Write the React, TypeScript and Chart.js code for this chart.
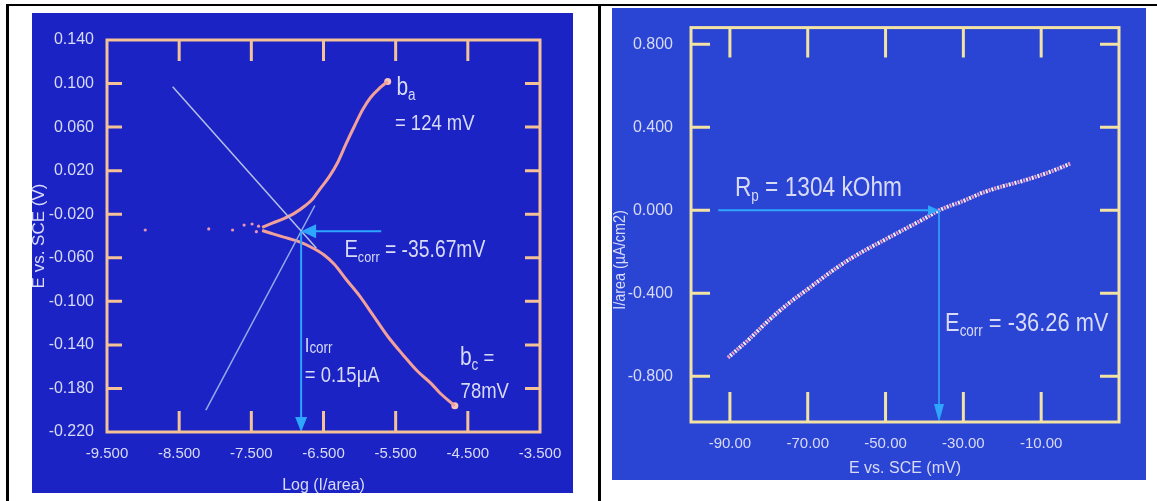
import React, { useEffect, useRef } from "react";
import { Chart, registerables } from "chart.js";

Chart.register(...registerables);

const FONT = "'Liberation Sans', Arial, sans-serif";
const SQUEEZE = 0.84; // condensed look for annotation text

// ---------- Left panel: Tafel plot ----------
const TAFEL_X_TICKS = [-9.5, -8.5, -7.5, -6.5, -5.5, -4.5, -3.5];
const TAFEL_Y_TICKS = [0.14, 0.1, 0.06, 0.02, -0.02, -0.06, -0.1, -0.14, -0.18, -0.22];

const ANODIC_LOG_I = [-7.35, -7.2, -7.05, -6.9, -6.75, -6.65, -6.55, -6.42, -6.3, -6.185, -6.07, -5.96, -5.85, -5.72, -5.61];
const ANODIC_E = [-0.032, -0.028, -0.024, -0.019, -0.012, -0.006, 0.003, 0.0145, 0.028, 0.045, 0.061, 0.0757, 0.087, 0.096, 0.102];

const CATHODIC_LOG_I = [-7.35, -7.2, -7.05, -6.85, -6.65, -6.5, -6.35, -6.185, -6.0, -5.8, -5.6, -5.4, -5.2, -5.0, -4.89, -4.68];
const CATHODIC_E = [-0.035, -0.038, -0.041, -0.045, -0.051, -0.057, -0.066, -0.08, -0.095, -0.114, -0.133, -0.149, -0.164, -0.176, -0.184, -0.196];

const SCATTER_LOG_I = [-8.97, -8.09, -7.76, -7.6, -7.49, -7.43, -7.4];
const SCATTER_E = [-0.0345, -0.0335, -0.0345, -0.03, -0.029, -0.036, -0.031];

const CATHODIC_FIT_LOG_I = [-8.59, -6.6];
const CATHODIC_FIT_E = [0.097, -0.051];
const ANODIC_FIT_LOG_I = [-8.13, -6.62];
const ANODIC_FIT_E = [-0.2, -0.012];

const ECORR_TAFEL = -0.03567;
const ICORR_LOG = -6.81;
const ECORR_ARROW_FROM = -5.7;

// ---------- Right panel: linear polarization ----------
const LPR_X_TICKS = [-90, -70, -50, -30, -10];
const LPR_Y_TICKS = [0.8, 0.4, 0, -0.4, -0.8];

const LPR_E_MV = [-90.5, -85, -80, -75, -70, -65, -60, -55, -50, -45, -40, -36.26, -30, -25, -20, -15, -10, -5, -2.5];
const LPR_I = [-0.71, -0.62, -0.53, -0.45, -0.38, -0.31, -0.245, -0.19, -0.14, -0.09, -0.04, 0, 0.045, 0.085, 0.115, 0.14, 0.17, 0.205, 0.225];

const ECORR_LPR = -36.26;
const RP_ARROW_FROM = -93;

// ---------- Styles ----------
const TEXT = "#d8daf6";
const LEFT_BG = "#1b23c4";
const RIGHT_BG = "#2a45d4";
const LEFT_FRAME = "#f4c296";
const RIGHT_FRAME = "#f2e2a4";
const ARROW = "#2ea6ff";

const zip = (xs: number[], ys: number[]) => xs.map((x, i) => ({ x, y: ys[i] }));

type Run = [string, number, number];
function rich(ctx: CanvasRenderingContext2D, x: number, y: number, runs: Run[]) {
  ctx.save();
  ctx.translate(x, y);
  ctx.scale(SQUEEZE, 1);
  let cx = 0;
  ctx.textAlign = "left";
  ctx.textBaseline = "alphabetic";
  for (const [t, s, dy] of runs) {
    ctx.font = `${s}px ${FONT}`;
    ctx.fillText(t, cx, dy);
    cx += ctx.measureText(t).width;
  }
  ctx.restore();
}

function arrow(ctx: CanvasRenderingContext2D, x1: number, y1: number, x2: number, y2: number, color: string, head: number, half: number, w: number) {
  const a = Math.atan2(y2 - y1, x2 - x1);
  const c = Math.cos(a), s = Math.sin(a);
  ctx.strokeStyle = color;
  ctx.lineWidth = w;
  ctx.beginPath();
  ctx.moveTo(x1, y1);
  ctx.lineTo(x2 - head * 0.7 * c, y2 - head * 0.7 * s);
  ctx.stroke();
  ctx.fillStyle = color;
  ctx.beginPath();
  ctx.moveTo(x2, y2);
  ctx.lineTo(x2 - head * c + half * s, y2 - head * s - half * c);
  ctx.lineTo(x2 - head * c - half * s, y2 - head * s + half * c);
  ctx.closePath();
  ctx.fill();
}

function drawFrame(chart: any, color: string, lenX: number, lenY: number, width: number) {
  const { ctx, chartArea: a, scales } = chart;
  const x = scales.x, y = scales.y;
  ctx.save();
  ctx.strokeStyle = color;
  ctx.lineWidth = width;
  ctx.lineCap = "butt";
  ctx.strokeRect(a.left, a.top, a.right - a.left, a.bottom - a.top);
  ctx.beginPath();
  for (const t of x.ticks) {
    const v = t.value;
    if (v <= x.min || v >= x.max) continue;
    const px = x.getPixelForValue(v);
    ctx.moveTo(px, a.top);
    ctx.lineTo(px, a.top + lenX);
    ctx.moveTo(px, a.bottom);
    ctx.lineTo(px, a.bottom - lenX);
  }
  for (const t of y.ticks) {
    const v = t.value;
    if (v <= y.min || v >= y.max) continue;
    const py = y.getPixelForValue(v);
    ctx.moveTo(a.left, py);
    ctx.lineTo(a.left + lenY, py);
    ctx.moveTo(a.right, py);
    ctx.lineTo(a.right - lenY, py);
  }
  ctx.stroke();
  ctx.restore();
}

const tafelPlugin = {
  id: "tafelDecor",
  afterDatasetsDraw(chart: any) {
    const { ctx, scales } = chart;
    const x = scales.x, y = scales.y;
    ctx.save();
    const ey = y.getPixelForValue(ECORR_TAFEL);
    const ix = x.getPixelForValue(ICORR_LOG);
    arrow(ctx, x.getPixelForValue(ECORR_ARROW_FROM), ey, ix, ey, ARROW, 15, 7, 2);
    arrow(ctx, ix, ey, ix, y.getPixelForValue(y.min), ARROW, 15, 6, 2);
    ctx.fillStyle = TEXT;
    rich(ctx, x.getPixelForValue(-5.49), y.getPixelForValue(0.0895), [["b", 25, 0], ["a", 16, 5]]);
    rich(ctx, x.getPixelForValue(-5.51), y.getPixelForValue(0.0574), [["= 124 mV", 22, 0]]);
    rich(ctx, x.getPixelForValue(-6.21), y.getPixelForValue(-0.059), [["E", 24, 0], ["corr", 15, 5], [" = -35.67mV", 23, 0]]);
    rich(ctx, x.getPixelForValue(-6.76), y.getPixelForValue(-0.1465), [["I", 20, 0], ["corr", 16, 1]]);
    rich(ctx, x.getPixelForValue(-6.76), y.getPixelForValue(-0.1738), [["= 0.15µA", 22, 0]]);
    rich(ctx, x.getPixelForValue(-4.61), y.getPixelForValue(-0.1585), [["b", 25, 0], ["c", 16, 5], [" =", 22, 0]]);
    rich(ctx, x.getPixelForValue(-4.6), y.getPixelForValue(-0.1887), [["78mV", 22, 0]]);
    ctx.restore();
  },
  afterDraw(chart: any) {
    drawFrame(chart, LEFT_FRAME, 21, 15, 3);
  },
};

const lprPlugin = {
  id: "lprDecor",
  afterDatasetsDraw(chart: any) {
    const { ctx, scales } = chart;
    const x = scales.x, y = scales.y;
    ctx.save();
    const zy = y.getPixelForValue(0);
    const ex = x.getPixelForValue(ECORR_LPR);
    arrow(ctx, x.getPixelForValue(RP_ARROW_FROM), zy, ex, zy, ARROW, 11, 5, 2);
    arrow(ctx, ex, zy, ex, y.getPixelForValue(y.min), ARROW, 18, 5, 1.6);
    ctx.fillStyle = TEXT;
    rich(ctx, x.getPixelForValue(-88.7), y.getPixelForValue(0.07), [["R", 27, 0], ["p", 16, 5], [" = 1304 kOhm", 27, 0]]);
    rich(ctx, x.getPixelForValue(-34.7), y.getPixelForValue(-0.583), [["E", 26, 0], ["corr", 16, 5], [" = -36.26 mV", 26, 0]]);
    // rotated y-axis title
    ctx.translate(9, 252);
    ctx.rotate(-Math.PI / 2);
    ctx.scale(0.9, 1);
    ctx.textAlign = "center";
    ctx.textBaseline = "middle";
    ctx.font = `16px ${FONT}`;
    ctx.fillText("I/area (µA/cm2)", 0, 0);
    ctx.restore();
  },
  afterDraw(chart: any) {
    drawFrame(chart, RIGHT_FRAME, 30, 19, 3);
  },
};

function tafelConfig(): any {
  return {
    type: "scatter",
    data: {
      datasets: [
        { data: zip(CATHODIC_FIT_LOG_I, CATHODIC_FIT_E), showLine: true, borderColor: "#b4c0e6", borderWidth: 1.5, pointRadius: 0 },
        { data: zip(ANODIC_FIT_LOG_I, ANODIC_FIT_E), showLine: true, borderColor: "#93acea", borderWidth: 1.5, pointRadius: 0 },
        { data: zip(SCATTER_LOG_I, SCATTER_E), showLine: false, pointRadius: 1.6, pointBackgroundColor: "#e894b4", pointBorderWidth: 0 },
        { data: zip(ANODIC_LOG_I, ANODIC_E), showLine: true, cubicInterpolationMode: "monotone", borderColor: "#f2a09a", borderWidth: 3, pointRadius: 0 },
        { data: zip(CATHODIC_LOG_I, CATHODIC_E), showLine: true, cubicInterpolationMode: "monotone", borderColor: "#f2a09a", borderWidth: 3, pointRadius: 0 },
        {
          data: [
            { x: ANODIC_LOG_I[ANODIC_LOG_I.length - 1], y: ANODIC_E[ANODIC_E.length - 1] },
            { x: CATHODIC_LOG_I[CATHODIC_LOG_I.length - 1], y: CATHODIC_E[CATHODIC_E.length - 1] },
          ],
          showLine: false, pointRadius: 3.5, pointBackgroundColor: "#f8c4bc", pointBorderWidth: 0,
        },
      ],
    },
    options: {
      responsive: false,
      animation: false,
      events: [],
      layout: { padding: { left: 0, right: 33, top: 27, bottom: 0 } },
      plugins: { legend: { display: false }, tooltip: { enabled: false } },
      scales: {
        x: {
          type: "linear",
          min: -9.5,
          max: -3.5,
          afterBuildTicks: (s: any) => { s.ticks = TAFEL_X_TICKS.map((v) => ({ value: v })); },
          afterFit: (s: any) => { s.height = 61; },
          grid: { display: false },
          border: { display: false },
          ticks: { color: TEXT, padding: 5, autoSkip: false, maxRotation: 0, font: { family: FONT, size: 15 }, callback: (v: any) => Number(v).toFixed(3) },
          title: { display: true, text: "Log (I/area)", color: TEXT, padding: 0, font: { family: FONT, size: 16, lineHeight: 0.9 } },
        },
        y: {
          type: "linear",
          min: -0.22,
          max: 0.14,
          afterBuildTicks: (s: any) => { s.ticks = TAFEL_Y_TICKS.map((v) => ({ value: v })); },
          afterFit: (s: any) => { s.width = 75; },
          grid: { display: false },
          border: { display: false },
          ticks: { color: TEXT, padding: 5, autoSkip: false, font: { family: FONT, size: 16 }, callback: (v: any) => Number(v).toFixed(3) },
          title: { display: true, text: "E vs. SCE (V)", color: TEXT, padding: 0, font: { family: FONT, size: 17, lineHeight: 0.9 } },
        },
      },
    },
    plugins: [tafelPlugin],
  };
}

function lprConfig(): any {
  return {
    type: "scatter",
    data: {
      datasets: [
        { data: zip(LPR_E_MV, LPR_I), showLine: true, cubicInterpolationMode: "monotone", borderColor: "#f09cc4", borderWidth: 4, borderDash: [2, 4], pointRadius: 0 },
        { data: zip(LPR_E_MV, LPR_I), showLine: true, cubicInterpolationMode: "monotone", borderColor: "#f6eefa", borderWidth: 4, borderDash: [2, 4], borderDashOffset: 3, pointRadius: 0 },
      ],
    },
    options: {
      responsive: false,
      animation: false,
      events: [],
      layout: { padding: { left: 0, right: 27, top: 13, bottom: 0 } },
      plugins: { legend: { display: false }, tooltip: { enabled: false } },
      scales: {
        x: {
          type: "linear",
          min: -100,
          max: 10,
          afterBuildTicks: (s: any) => { s.ticks = LPR_X_TICKS.map((v) => ({ value: v })); },
          afterFit: (s: any) => { s.height = 58; },
          grid: { display: false },
          border: { display: false },
          ticks: { color: TEXT, padding: 5, autoSkip: false, maxRotation: 0, font: { family: FONT, size: 15 }, callback: (v: any) => Number(v).toFixed(2) },
          title: { display: true, text: "E vs. SCE (mV)", color: TEXT, padding: { top: 0, bottom: 2 }, font: { family: FONT, size: 16 } },
        },
        y: {
          type: "linear",
          min: -1.02,
          max: 0.88,
          afterBuildTicks: (s: any) => { s.ticks = LPR_Y_TICKS.map((v) => ({ value: v })); },
          afterFit: (s: any) => { s.width = 79; },
          grid: { display: false },
          border: { display: false },
          ticks: { color: TEXT, padding: 10, autoSkip: false, font: { family: FONT, size: 16 }, callback: (v: any) => Number(v).toFixed(3) },
        },
      },
    },
    plugins: [lprPlugin],
  };
}

export default function App() {
  const leftRef = useRef<HTMLCanvasElement>(null);
  const rightRef = useRef<HTMLCanvasElement>(null);

  useEffect(() => {
    const c1 = new Chart(leftRef.current as HTMLCanvasElement, tafelConfig());
    const c2 = new Chart(rightRef.current as HTMLCanvasElement, lprConfig());
    return () => {
      c1.destroy();
      c2.destroy();
    };
  }, []);

  const abs = (l: number, t: number, w: number, h: number, bg: string): React.CSSProperties => ({
    position: "absolute", left: l, top: t, width: w, height: h, background: bg,
  });

  return (
    <div style={{ position: "absolute", left: 0, top: 0, width: 1157, height: 501, background: "#ffffff", overflow: "hidden" }}>
      <div style={abs(6, 4, 1151, 2, "#000")} />
      <div style={abs(6, 4, 3, 497, "#000")} />
      <div style={abs(598, 4, 3, 497, "#000")} />
      <div style={abs(32, 13, 541, 480, LEFT_BG)}>
        <canvas ref={leftRef} width={541} height={480} style={{ display: "block" }} />
      </div>
      <div style={abs(612, 8, 534, 472, RIGHT_BG)}>
        <canvas ref={rightRef} width={534} height={472} style={{ display: "block" }} />
      </div>
    </div>
  );
}
